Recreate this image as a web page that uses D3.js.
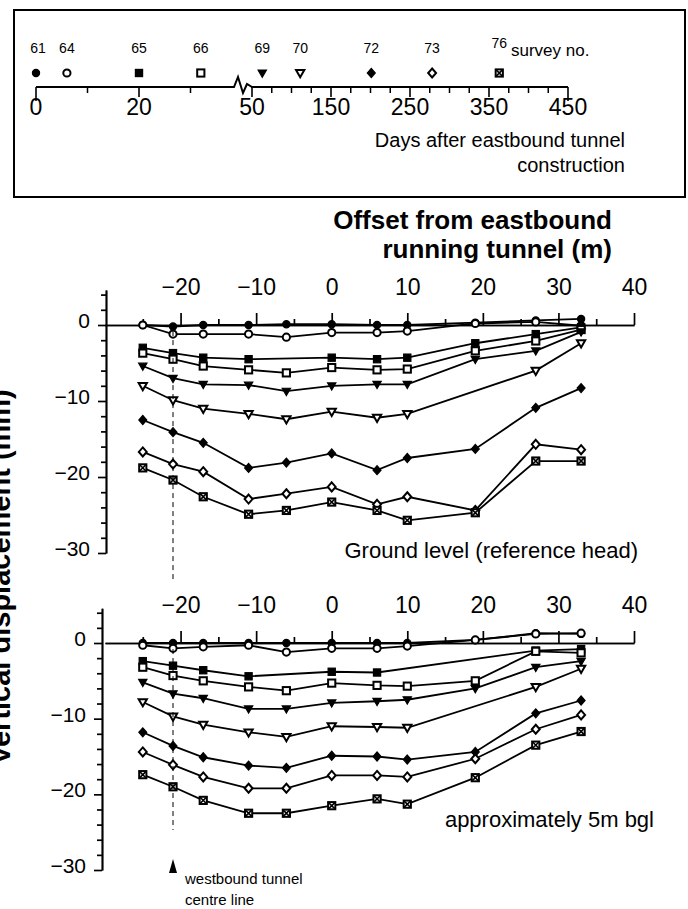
<!DOCTYPE html>
<html>
<head>
<meta charset="utf-8">
<script src="https://cdn.jsdelivr.net/npm/d3@7"></script>
<style>
  body { margin: 0; background: #fff; }
  svg { display: block; font-family: "Liberation Sans", Arial, sans-serif; }
</style>
</head>
<body>
<svg id="chart" width="688" height="909"></svg>
<script>
// survey numbers and days after eastbound tunnel construction
const surveys = ["61", "64", "65", "66", "69", "70", "72", "73", "76"];
const surveyDays = [0, 6, 20, 32, 63, 111, 201, 278, 363];
const dayTicks = [0, 20, 50, 150, 250, 350, 450];

// offset from eastbound running tunnel (m)
const offsets = [-25, -21, -17, -11, -6, 0, 6, 10, 19, 27, 33];
const offsetTicks = [-20, -10, 0, 10, 20, 30, 40];
const dispTicks = [0, -10, -20, -30];

// vertical displacement (mm), one row per survey, ground level (reference head)
const groundLevel = [
  [0, -0.2, 0, 0, 0.1, 0.1, 0, 0, 0.3, 0.6, 0.8],
  [0, -1.2, -1.2, -1.2, -1.6, -1.0, -1.0, -0.8, 0.2, 0.4, -0.1],
  [-3.0, -3.7, -4.3, -4.5, null, -4.3, -4.5, -4.3, -2.4, -1.2, -0.3],
  [-3.7, -4.5, -5.4, -5.9, -6.3, -5.6, -5.9, -5.8, -3.4, -2.1, -0.6],
  [-5.4, -7.0, -7.8, -7.9, -8.7, -8.0, -7.8, -7.8, -4.5, -3.4, -0.9],
  [-8.0, -9.9, -11.0, -11.7, -12.4, -11.4, -12.2, -11.7, null, -6.0, -2.4],
  [-12.5, -14.1, -15.5, -18.8, -18.1, -16.9, -19.1, -17.5, -16.3, -10.9, -8.3],
  [-16.7, -18.3, -19.3, -22.9, -22.2, -21.3, -23.6, -22.6, -24.4, -15.7, -16.4],
  [-18.8, -20.4, -22.6, -24.9, -24.4, -23.3, -24.4, -25.7, -24.7, -17.9, -17.9]
];

// vertical displacement (mm), approximately 5m bgl
const fiveMetre = [
  [0, 0, 0, 0, 0, 0, 0, 0, 0.4, 1.3, 1.2],
  [-0.3, -0.7, -0.5, -0.3, -1.2, -0.7, -0.7, -0.4, 0.4, 1.2, 1.3],
  [-2.4, -3.0, -3.6, -4.4, null, -3.8, -3.9, null, null, -1.0, -0.8],
  [-3.2, -4.3, -5.0, -5.8, -6.3, -5.3, -5.6, -5.7, -5.0, -1.1, -1.3],
  [-5.2, -6.7, -7.3, -8.7, -8.7, -7.9, -7.7, -7.5, -6.0, -3.2, -2.4],
  [-7.8, -9.7, -10.8, -11.8, -12.4, -11.0, -11.1, -11.2, null, -5.8, -3.4],
  [-11.8, -13.6, -15.1, -16.2, -16.5, -14.9, -15.0, -15.4, -14.4, -9.3, -7.6],
  [-14.4, -16.1, -17.7, -19.2, -19.2, -17.5, -17.5, -17.7, -15.3, -11.4, -9.5],
  [-17.4, -19.0, -20.8, -22.5, -22.5, -21.5, -20.6, -21.3, -17.8, -13.5, -11.7]
];

// marker per survey (filled / open pairs)
const markerKind = ["circle", "circle", "square", "square", "tri", "tri", "diamond", "diamond", "squareX"];
const markerOpen = [false, true, false, true, false, true, false, true, false];

const svg = d3.select("#chart");

function marker(g, k, x, y, r) {
  const kind = markerKind[k];
  const open = markerOpen[k] || kind == "squareX";
  const sw = open ? 2 : 1.2;
  let m;
  if (kind == "circle") {
    m = g.append("circle").attr("cx", x).attr("cy", y).attr("r", r);
  } else if (kind == "square" || kind == "squareX") {
    m = g.append("rect").attr("x", x - r).attr("y", y - r).attr("width", 2 * r).attr("height", 2 * r);
  } else if (kind == "tri") {
    m = g.append("path").attr("d", `M${x - r * 1.15},${y - r * 0.8}L${x + r * 1.15},${y - r * 0.8}L${x},${y + r * 1.2}Z`);
  } else {
    m = g.append("path").attr("d", `M${x},${y - r * 1.25}L${x + r * 1.1},${y}L${x},${y + r * 1.25}L${x - r * 1.1},${y}Z`);
  }
  m.attr("fill", open ? "#fff" : "#000").attr("stroke", "#000").attr("stroke-width", sw);
  if (kind == "squareX") {
    g.append("path")
      .attr("d", `M${x - r},${y - r}L${x + r},${y + r}M${x + r},${y - r}L${x - r},${y + r}`)
      .attr("stroke", "#000").attr("stroke-width", 1.6);
  }
}

function label(g, x, y, txt, size, anchor, weight) {
  return g.append("text")
    .attr("x", x).attr("y", y)
    .attr("font-size", size + "px")
    .attr("font-weight", weight || "normal")
    .style("text-anchor", anchor || "start")
    .attr("fill", "#000")
    .text(txt);
}

// ---- survey / time legend box ----
const box = svg.append("g");
box.append("rect")
  .attr("x", 14).attr("y", 10).attr("width", 671).attr("height", 187)
  .attr("fill", "none").attr("stroke", "#000").attr("stroke-width", 2);

const lineY = 87;
const dayA = d3.scaleLinear().domain([0, 20]).range([36, 139]);
const dayB = d3.scaleLinear().domain([50, 450]).range([252, 568]);
const dayX = d => d < 45 ? dayA(d) : dayB(d);

box.append("path")
  .attr("d", `M${dayA(0)},${lineY}L228,${lineY}L234,${lineY}L238,${lineY - 10}L243,${lineY + 6}L247,${lineY - 3}L${dayB(50)},${lineY}L${dayB(450)},${lineY}`)
  .attr("fill", "none").attr("stroke", "#000").attr("stroke-width", 2);

const minorDays = [10, 30].concat(d3.range(75, 450, 25).filter(d => d % 100 != 50));
minorDays.forEach(d => {
  box.append("line").attr("x1", dayX(d)).attr("x2", dayX(d))
    .attr("y1", lineY).attr("y2", lineY + 6).attr("stroke", "#000").attr("stroke-width", 1.5);
});
dayTicks.forEach((d, i) => {
  const long = (i == 0 || i == dayTicks.length - 1);
  box.append("line").attr("x1", dayX(d)).attr("x2", dayX(d))
    .attr("y1", lineY).attr("y2", lineY + (long ? 14 : 10)).attr("stroke", "#000").attr("stroke-width", 1.6);
  label(box, dayX(d), 115, d, 23, "middle");
});

surveys.forEach((s, i) => {
  const x = dayX(surveyDays[i]);
  label(box, x + (i == 0 ? 2 : 0), i == 8 ? 48 : 53, s, 14, "middle");
  marker(box, i, x, 73, 3.6);
});
label(box, 511, 56, "survey no.", 17, "start");
label(box, 625, 147, "Days after eastbound tunnel", 20, "end");
label(box, 625, 172, "construction", 20, "end");

// ---- main title ----
label(svg, 612, 229, "Offset from eastbound", 26, "end", "bold");
label(svg, 612, 258, "running tunnel (m)", 26, "end", "bold");

// y axis title, mostly cut off by the left edge as in the source
svg.append("text")
  .attr("transform", "translate(10,577) rotate(-90)")
  .attr("font-size", "29px").attr("font-weight", "bold")
  .style("text-anchor", "middle")
  .text("Vertical displacement (mm)");

// ---- panels ----
const x = d3.scaleLinear().domain([-30, 40]).range([105, 634]);

function drawPanel(rows, y0, y30, axisX, note, noteX, noteY) {
  const y = d3.scaleLinear().domain([0, -30]).range([y0, y30]);
  const g = svg.append("g");

  // x axis along zero, ticks pointing up
  const xMinor = d3.axisTop(x).tickValues(d3.range(-25, 40, 10)).tickSize(6).tickSizeOuter(0).tickFormat("");
  const xMajor = d3.axisTop(x).tickValues(offsetTicks).tickSize(12).tickSizeOuter(0).tickPadding(18);
  g.append("g").attr("transform", `translate(0,${y(0)})`).call(xMinor);
  const xa = g.append("g").attr("transform", `translate(0,${y(0)})`).call(xMajor);
  xa.selectAll("text").attr("font-size", "23px").attr("font-family", "Liberation Sans, Arial, sans-serif").attr("fill", "#000");

  // y axis, a little above zero
  const yFull = y.copy().domain([4.6, -30]).range([y(4.6), y30]);
  const yMinor = d3.axisLeft(yFull).tickValues(d3.range(-28, 5, 2).filter(v => v % 10 != 0)).tickSize(5).tickSizeOuter(0).tickFormat("");
  const yMajor = d3.axisLeft(yFull).tickValues(dispTicks).tickSize(8).tickSizeOuter(0).tickPadding(8);
  g.append("g").attr("transform", `translate(${axisX},0)`).call(yMinor);
  const ya = g.append("g").attr("transform", `translate(${axisX},0)`).call(yMajor);
  ya.selectAll("text").attr("font-size", "21px").attr("font-family", "Liberation Sans, Arial, sans-serif").attr("fill", "#000").attr("dy", "0.12em");
  g.selectAll(".domain, .tick line").attr("stroke", "#000").attr("stroke-width", 1.7);

  // data lines then markers
  const line = d3.line().x(d => x(d[0])).y(d => y(d[1]));
  rows.forEach((row, k) => {
    const pts = offsets.map((o, j) => [o, row[j]]).filter(d => d[1] != null);
    g.append("path").attr("d", line(pts)).attr("fill", "none").attr("stroke", "#000").attr("stroke-width", 1.8);
  });
  rows.forEach((row, k) => {
    offsets.forEach((o, j) => {
      if (row[j] != null) marker(g, k, x(o), y(row[j]), 3.6);
    });
  });

  label(g, noteX, noteY, note, 22, "end");
  return y;
}

const yTop = drawPanel(groundLevel, 325, 553, 106, "Ground level (reference head)", 638, 558);
const yBot = drawPanel(fiveMetre, 643, 870, 102, "approximately 5m bgl", 654, 827);

// westbound tunnel centre line
const wx = x(-21);
svg.append("line").attr("x1", wx).attr("x2", wx).attr("y1", yTop(-0.8)).attr("y2", 582)
  .attr("stroke", "#000").attr("stroke-width", 1).attr("stroke-dasharray", "5,4");
svg.append("line").attr("x1", wx).attr("x2", wx).attr("y1", yBot(-0.8)).attr("y2", 830)
  .attr("stroke", "#000").attr("stroke-width", 1).attr("stroke-dasharray", "5,4");
svg.append("path").attr("d", `M${wx - 4},873L${wx + 4},873L${wx},859Z`).attr("fill", "#000");
label(svg, wx + 12, 884, "westbound tunnel", 15, "start");
label(svg, wx + 12, 905, "centre line", 15, "start");
</script>
</body>
</html>
